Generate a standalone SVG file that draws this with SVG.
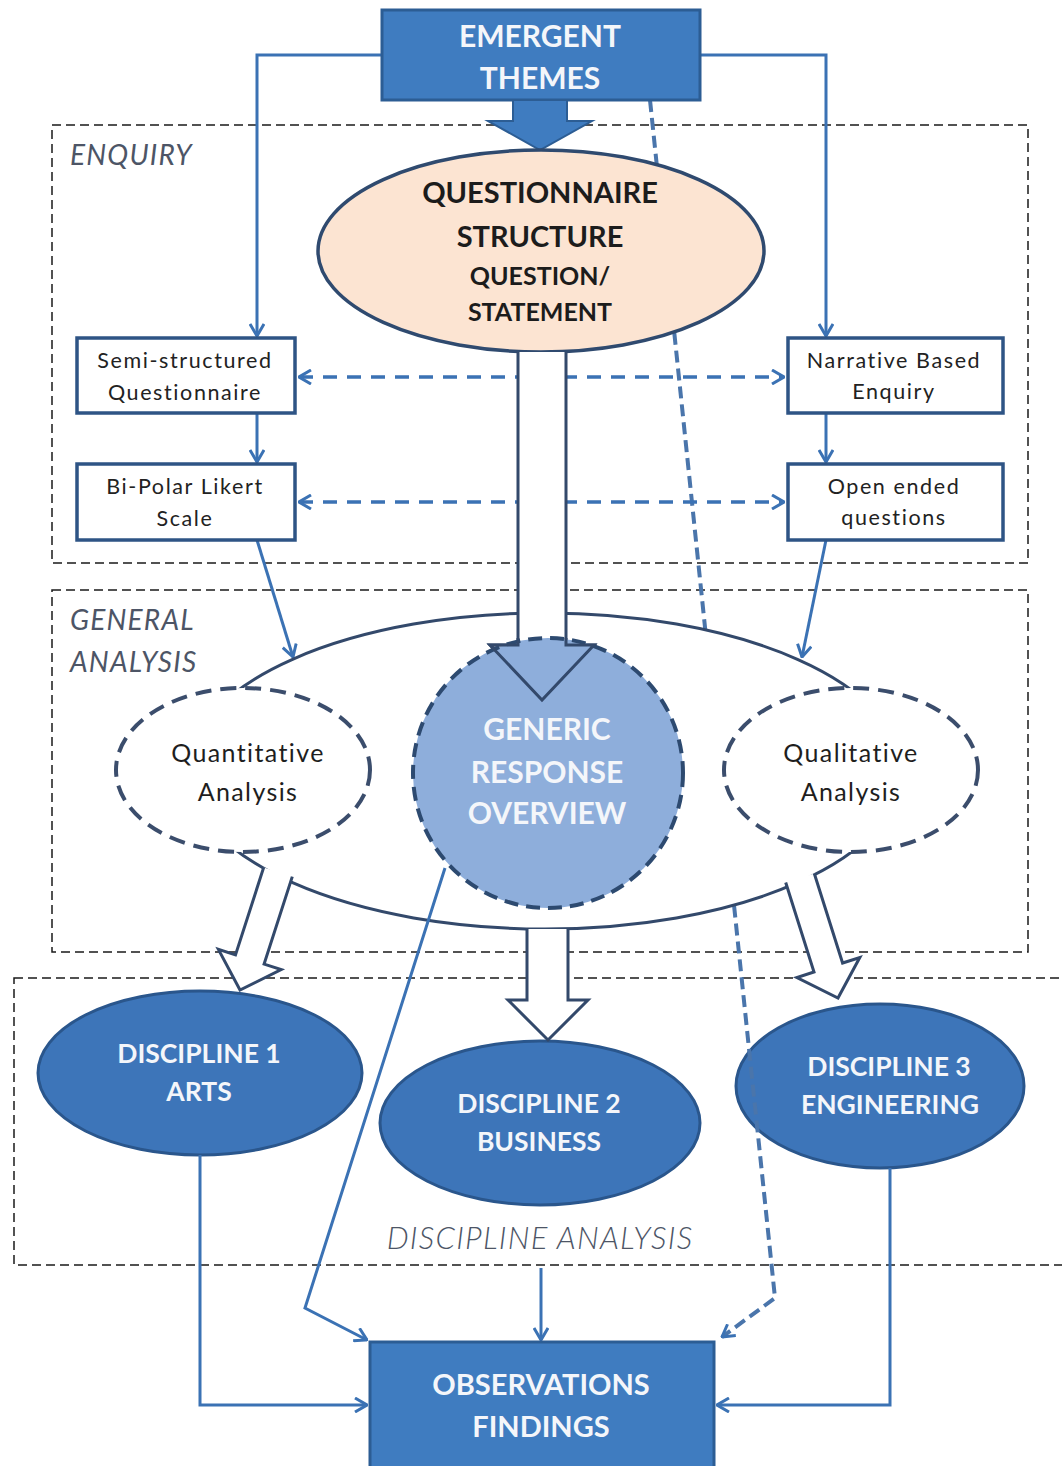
<svg xmlns="http://www.w3.org/2000/svg" width="1062" height="1466" viewBox="0 0 1062 1466">
  <style>
    .bg { fill: #ffffff; }
    .frame { fill: none; stroke: #1a1a1a; stroke-width: 1.5; stroke-dasharray: 9 5; }
    .zone { font-family: Lato, "Liberation Sans", sans-serif; font-style: italic; font-size: 28px; fill: #4d5566; letter-spacing: 1.2px; }
    .zone-wide { font-size: 31px; font-weight: 300; letter-spacing: 1.25px; text-anchor: middle; }
    .solid { fill: #3f7cc0; stroke: #2c5d94; stroke-width: 3; }
    .disc { fill: #3d75b9; stroke: #2a568c; stroke-width: 3; }
    .white-bold { font-family: Lato, "Liberation Sans", sans-serif; font-weight: bold; fill: #f4f6fa; text-anchor: middle; }
    .dark-bold { font-family: Lato, "Liberation Sans", sans-serif; font-weight: bold; fill: #1c1c1c; text-anchor: middle; }
    .box { fill: #ffffff; stroke: #2e5485; stroke-width: 3.5; }
    .box-text { font-family: Lato, "Liberation Sans", sans-serif; font-size: 21.5px; fill: #222222; text-anchor: middle; letter-spacing: 1.6px; }
    .oval-text { font-family: Lato, "Liberation Sans", sans-serif; font-size: 25px; fill: #1e1e1e; text-anchor: middle; letter-spacing: 1.4px; }
    .dash-oval { fill: #ffffff; stroke: #3b4d6c; stroke-width: 4; stroke-dasharray: 16 9; }
    .hollow { fill: #ffffff; stroke: #33496b; stroke-width: 3; stroke-linejoin: miter; }
    .outline { fill: none; stroke: #33496b; stroke-width: 3; }
    .link { fill: none; stroke: #3b72b4; stroke-width: 3; }
    .link-dash { fill: none; stroke: #3b72b4; stroke-width: 3.5; stroke-dasharray: 14 10; }
    .trace { fill: none; stroke: #4a75ab; stroke-width: 4; stroke-dasharray: 12 6; }
  </style>
  <defs>
    <marker id="open" viewBox="0 0 14 16" refX="13" refY="8" markerWidth="14" markerHeight="16" markerUnits="userSpaceOnUse" orient="auto-start-reverse">
      <path d="M1,1 L13,8 L1,15" fill="none" stroke="#3b72b4" stroke-width="3"/>
    </marker>
  </defs>

  <rect class="bg" x="0" y="0" width="1062" height="1466"/>

  <!-- section frames -->
  <g id="zones">
    <rect class="frame" x="52" y="125" width="976" height="438"/>
    <text class="zone" x="70" y="165">ENQUIRY</text>
    <rect class="frame" x="52" y="590" width="976" height="362"/>
    <text class="zone" x="70" y="630">GENERAL</text>
    <text class="zone" x="70" y="672">ANALYSIS</text>
    <rect class="frame" x="14" y="978" width="1060" height="287"/>
    <text class="zone zone-wide" x="540" y="1249">DISCIPLINE ANALYSIS</text>
  </g>

  <!-- discipline nodes (beneath the trace line) -->
  <g id="discipline-1">
    <ellipse class="disc" cx="200" cy="1073" rx="162" ry="82"/>
    <text class="white-bold" x="199" y="1063" font-size="26.5">DISCIPLINE 1</text>
    <text class="white-bold" x="199" y="1101" font-size="26.5">ARTS</text>
  </g>
  <g id="discipline-2">
    <ellipse class="disc" cx="540" cy="1123" rx="160" ry="82"/>
    <text class="white-bold" x="539" y="1113" font-size="26.5">DISCIPLINE 2</text>
    <text class="white-bold" x="539" y="1151" font-size="26.5">BUSINESS</text>
  </g>
  <g id="discipline-3">
    <ellipse class="disc" cx="880" cy="1086" rx="144" ry="82"/>
    <text class="white-bold" x="889" y="1076" font-size="26.5">DISCIPLINE 3</text>
    <text class="white-bold" x="890" y="1114" font-size="26.5">ENGINEERING</text>
  </g>

  <!-- connectors running beneath the ovals -->
  <g id="connectors">
    <path class="trace" d="M650,100 L775,1298 L722,1337" marker-end="url(#open)"/>
    <path class="link" d="M382,55 H257 V336" marker-end="url(#open)"/>
    <path class="link" d="M700,55 H826 V336" marker-end="url(#open)"/>
    <path class="link" d="M257,413 V462" marker-end="url(#open)"/>
    <path class="link" d="M826,413 V462" marker-end="url(#open)"/>
    <path class="link" d="M257,540 L293,657" marker-end="url(#open)"/>
    <path class="link" d="M826,540 L802,657" marker-end="url(#open)"/>
    <path class="link-dash" d="M299,377 H784" marker-start="url(#open)" marker-end="url(#open)"/>
    <path class="link-dash" d="M299,502 H784" marker-start="url(#open)" marker-end="url(#open)"/>
    <path class="link" d="M200,1155 V1405 H367" marker-end="url(#open)"/>
    <path class="link" d="M890,1168 V1405 H717" marker-end="url(#open)"/>
    <path class="link" d="M541,1268 V1340" marker-end="url(#open)"/>
  </g>

  <!-- top source node -->
  <g id="emergent-themes">
    <rect class="solid" x="382" y="10" width="318" height="90"/>
    <text class="white-bold" x="540" y="47" font-size="30">EMERGENT</text>
    <text class="white-bold" x="540" y="89" font-size="30">THEMES</text>
  </g>
  <g id="emergent-arrow">
    <polygon points="513,100 567,100 567,121 592,121 540,150 488,121 513,121" fill="#3f7cc0" stroke="#2c5d94" stroke-width="2"/>
  </g>

  <g id="questionnaire-structure">
    <ellipse cx="541" cy="251" rx="223" ry="101" fill="#fce4d2" stroke="#2f4a6f" stroke-width="3.5"/>
    <text class="dark-bold" x="540" y="203" font-size="29">QUESTIONNAIRE</text>
    <text class="dark-bold" x="540" y="247" font-size="29">STRUCTURE</text>
    <text class="dark-bold" x="540" y="285" font-size="25">QUESTION/</text>
    <text class="dark-bold" x="540" y="321" font-size="25">STATEMENT</text>
  </g>

  <g id="semi-structured">
    <rect class="box" x="77" y="338" width="218" height="75"/>
    <text class="box-text" x="185" y="368">Semi-structured</text>
    <text class="box-text" x="185" y="400">Questionnaire</text>
  </g>
  <g id="bipolar-likert">
    <rect class="box" x="77" y="464" width="218" height="76"/>
    <text class="box-text" x="185" y="494">Bi-Polar Likert</text>
    <text class="box-text" x="185" y="526">Scale</text>
  </g>
  <g id="narrative-enquiry">
    <rect class="box" x="788" y="338" width="215" height="75"/>
    <text class="box-text" x="894" y="368">Narrative Based</text>
    <text class="box-text" x="894" y="399">Enquiry</text>
  </g>
  <g id="open-ended">
    <rect class="box" x="788" y="464" width="215" height="76"/>
    <text class="box-text" x="894" y="494">Open ended</text>
    <text class="box-text" x="894" y="525">questions</text>
  </g>

  <!-- general analysis group -->
  <g id="general-analysis">
    <ellipse cx="545" cy="771" rx="357" ry="158" fill="#ffffff" stroke="#33496b" stroke-width="3"/>
  </g>
  <g id="quantitative">
    <ellipse class="dash-oval" cx="243" cy="770" rx="127" ry="82"/>
    <text class="oval-text" x="248" y="762">Quantitative</text>
    <text class="oval-text" x="248" y="801">Analysis</text>
  </g>
  <g id="qualitative">
    <ellipse class="dash-oval" cx="851" cy="770" rx="127" ry="82"/>
    <text class="oval-text" x="851" y="762">Qualitative</text>
    <text class="oval-text" x="851" y="801">Analysis</text>
  </g>

  <!-- wide arrow into the overview -->
  <g id="structure-arrow">
    <path class="hollow" d="M518,352 V645 H490 L542,700 L594,645 H566 V352"/>
  </g>
  <g id="generic-response">
    <circle cx="548" cy="773" r="135" fill="#8eaedb" stroke="#2d4a70" stroke-width="4" stroke-dasharray="14 8"/>
    <path class="outline" d="M518,638 V645 H490 L542,700 L594,645 H566 V638"/>
    <text class="white-bold" x="547" y="740" font-size="30">GENERIC</text>
    <text class="white-bold" x="547" y="783" font-size="30">RESPONSE</text>
    <text class="white-bold" x="547" y="824" font-size="30">OVERVIEW</text>
  </g>

  <!-- connector leaving the overview, drawn over the general oval -->
  <g id="connectors-overview">
    <path class="link" d="M445,868 L305,1308 L367,1340" marker-end="url(#open)"/>
  </g>

  <!-- wide arrows into the disciplines -->
  <g id="analysis-arrows">
    <path class="hollow" d="M263.7,867.4 L235.5,954.9 L218.4,949.4 L240,990 L281.2,969.6 L264.1,964.1 L292.3,876.6"/>
    <path class="hollow" d="M527,929 V1000 H508 L548,1040 L588,1000 H568 V929"/>
    <path class="hollow" d="M785.7,882.5 L814,972 L796.9,977.5 L838,998 L859.8,957.5 L842.6,963 L814.3,873.5"/>
  </g>

  <g id="observations-findings">
    <rect class="solid" x="370" y="1342" width="344" height="130"/>
    <text class="white-bold" x="541" y="1395" font-size="29">OBSERVATIONS</text>
    <text class="white-bold" x="541" y="1437" font-size="29">FINDINGS</text>
  </g>
</svg>
